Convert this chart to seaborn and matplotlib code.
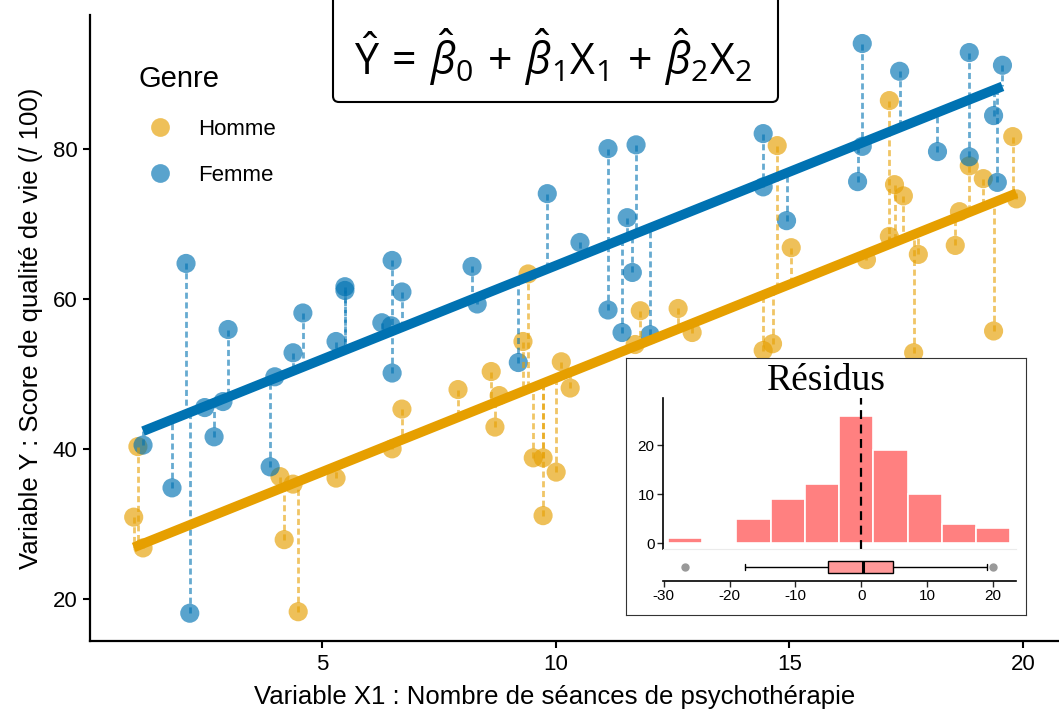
import numpy as np
import pandas as pd
import matplotlib
matplotlib.use('Agg')
import matplotlib.pyplot as plt
import matplotlib.transforms as mtransforms
from matplotlib.patches import FancyBboxPatch
from matplotlib.lines import Line2D
import seaborn as sns

sns.set_theme(style='white')
plt.rcParams['font.family'] = ['Liberation Sans', 'DejaVu Sans']
plt.rcParams['text.color'] = 'black'
plt.rcParams['axes.unicode_minus'] = False
plt.rcParams['mathtext.fontset'] = 'custom'
plt.rcParams['mathtext.rm'] = 'Open Sans'
plt.rcParams['mathtext.it'] = 'Open Sans:italic'

# Données
homme_x = [1.06, 0.97, 1.17, 4.10, 4.19, 4.38, 4.49, 5.30, 6.50, 6.71, 7.91, 8.62, 8.79, 8.70,
           9.30, 9.41, 9.52, 9.73, 9.73, 10.01, 10.12, 10.31, 11.81, 11.70, 12.62, 12.92,
           14.44, 14.64, 14.74, 15.04, 16.65, 17.14, 17.14, 17.25, 17.44, 17.66, 17.76,
           18.55, 18.64, 18.85, 19.15, 19.37, 19.78, 19.86]
homme_y = [40.3, 30.9, 26.8, 36.3, 27.9, 35.3, 18.3, 36.1, 40.0, 45.3, 47.9, 50.3, 47.1, 42.9,
           54.3, 63.3, 38.8, 38.8, 31.1, 36.9, 51.6, 48.1, 58.4, 53.9, 58.7, 55.5,
           53.1, 54.0, 80.4, 66.8, 65.2, 86.4, 68.3, 75.2, 73.7, 52.8, 65.9,
           67.1, 71.6, 77.7, 76.0, 55.7, 81.6, 73.3]
femme_x = [1.17, 1.79, 2.09, 2.17, 2.49, 2.69, 2.88, 2.99, 3.89, 3.99, 4.38, 4.59, 5.30, 5.49,
           5.49, 6.28, 6.48, 6.50, 6.50, 6.71, 8.21, 8.32, 9.20, 9.82, 10.52, 11.12, 11.12,
           11.42, 11.53, 11.64, 11.72, 12.02, 14.44, 14.44, 14.94, 16.46, 16.56, 16.56,
           17.36, 18.17, 18.85, 18.85, 19.37, 19.45, 19.56]
femme_y = [40.5, 34.8, 64.7, 18.1, 45.5, 41.6, 46.3, 55.9, 37.6, 49.6, 52.8, 58.1, 54.3, 61.6,
           61.1, 56.8, 56.4, 65.1, 50.1, 60.9, 64.3, 59.3, 51.5, 74.0, 67.5, 80.0, 58.5,
           55.5, 70.8, 63.5, 80.5, 55.2, 82.0, 74.9, 70.4, 75.6, 80.3, 94.0,
           90.3, 79.6, 92.8, 78.9, 84.4, 75.5, 91.1]

genres = ['Homme', 'Femme']
palette = {'Homme': '#E69F00', 'Femme': '#0072B2'}

df = pd.concat([
    pd.DataFrame({'x': homme_x, 'y': homme_y, 'genre': 'Homme'}),
    pd.DataFrame({'x': femme_x, 'y': femme_y, 'genre': 'Femme'}),
], ignore_index=True)

# modele Y = b0 + b1 X1 + b2 X2
X = np.column_stack([np.ones(len(df)), df['x'], (df['genre'] == 'Femme').astype(float)])
coef = np.linalg.lstsq(X, df['y'].values, rcond=None)[0]
df['fit'] = X @ coef
df['resid'] = df['y'] - df['fit']

fig = plt.figure(figsize=(10.59, 7.11), dpi=100)
ax = fig.add_axes([90/1059, 1-641/711, 969/1059, 626/711])

sns.scatterplot(data=df, x='x', y='y', hue='genre', palette=palette, s=190, alpha=0.65,
                edgecolor='none', legend=False, ax=ax, zorder=2)
for _, r in df.iterrows():
    ax.plot([r['x'], r['x']], [r['y'], r['fit']], color=palette[r['genre']], alpha=0.6,
            lw=2.0, ls=(0, (2.2, 1.3)), zorder=3)
sns.lineplot(data=df.sort_values('x'), x='x', y='fit', hue='genre', palette=palette,
             lw=7.0, legend=False, estimator=None, ax=ax, zorder=4, solid_capstyle='butt')

ax.set_xlim(0.035, 20.77)
ax.set_ylim(14.4, 97.8)
ax.set_xticks([5, 10, 15, 20])
ax.set_yticks([20, 40, 60, 80])
sns.despine(ax=ax)
for s in ['left', 'bottom']:
    ax.spines[s].set_linewidth(1.6)
    ax.spines[s].set_color('black')
ax.tick_params(axis='both', direction='out', length=5, width=1.5, color='black',
               labelsize=16, labelcolor='black', pad=4, left=True, bottom=True)
ax.set_xlabel('Variable X1 : Nombre de séances de psychothérapie', fontsize=18.5, color='black')
ax.set_ylabel('Variable Y : Score de qualité de vie (/ 100)', fontsize=18.5, color='black', labelpad=7)
ax.xaxis.set_label_coords(0.48, -0.071)

handles = [Line2D([], [], ls='none', marker='o', markersize=13.5, markeredgecolor='none',
                  markerfacecolor=palette[g], alpha=0.65) for g in genres]
leg = ax.legend(handles, genres, title='Genre', loc='upper left', bbox_to_anchor=(138/1059, 1-65/711),
                bbox_transform=fig.transFigure, frameon=False, fontsize=16, title_fontsize=21,
                alignment='left', handlelength=2.0, handletextpad=0.7, labelspacing=1.15,
                borderpad=0, borderaxespad=0, labelcolor='black')
leg.get_title().set_color('black')

# encadre de l'equation
box = FancyBboxPatch((333, 711-102), 445, 200, boxstyle='round,pad=0,rounding_size=6',
                     transform=mtransforms.IdentityTransform(), fc='white', ec='black', lw=1.5)
fig.add_artist(box)
fig.text(553/1059, 1-57/711,
         r'$\hat{\mathrm{Y}}\,=\,\hat{\beta}_0\,+\,\hat{\beta}_1\mathrm{X}_1\,+\,\hat{\beta}_2\mathrm{X}_2$',
         fontsize=31, ha='center', va='center', color='black')

# encart des residus
bg = fig.add_axes([626/1059, 1-615/711, 400/1059, 257/711])
bg.set_facecolor('white')
bg.set_xticks([])
bg.set_yticks([])
for s in bg.spines.values():
    s.set_color('#333333')
    s.set_linewidth(0.8)
bg.text(0.5, 0.91, 'Résidus', family='Liberation Serif', fontsize=27, ha='center', va='center',
        transform=bg.transAxes, color='black')

res = df['resid'].values
w = (res.max() - res.min()) / 9
edges = res.min() - w/2 + w*np.arange(11)
xl = (-30.1, 23.5)

hax = fig.add_axes([663/1059, 1-549/711, 353/1059, 151/711])
sns.histplot(x=res, bins=edges, color='#FF8080', alpha=1, edgecolor='white', linewidth=1.2, ax=hax)
hax.axvline(0, color='black', ls=(0, (4, 2.5)), lw=1.6)
hax.set_xlim(*xl)
hax.set_ylim(-1.2, 29.6)
hax.set_yticks([0, 10, 20])
hax.set_xticks([])
hax.set_xlabel('')
hax.set_ylabel('')
hax.set_facecolor('none')
for s in ['top', 'right']:
    hax.spines[s].set_visible(False)
hax.spines['bottom'].set_color('#EBEBEB')
hax.spines['bottom'].set_linewidth(0.8)
hax.spines['left'].set_color('black')
hax.spines['left'].set_linewidth(1.2)
hax.tick_params(axis='y', left=True, length=4, width=1, labelsize=11, pad=2, labelcolor='black')

bax = fig.add_axes([663/1059, 1-581/711, 353/1059, 28/711])
sns.boxplot(x=res, ax=bax, color='#FF9999', saturation=1, linecolor='black', linewidth=1,
            width=0.43, whis=1.5,
            medianprops=dict(linewidth=2.2, color='black'),
            flierprops=dict(marker='o', markerfacecolor='#999999', markeredgecolor='#999999', markersize=5))
bax.set_xlim(*xl)
bax.set_ylim(0.5, -0.5)
bax.set_xticks([-30, -20, -10, 0, 10, 20])
bax.set_yticks([])
bax.set_facecolor('none')
for s in ['top', 'right', 'left']:
    bax.spines[s].set_visible(False)
bax.spines['bottom'].set_color('black')
bax.spines['bottom'].set_linewidth(1.2)
bax.tick_params(axis='x', bottom=True, length=4, width=1, labelsize=11, pad=2, labelcolor='black')

fig.savefig('out.png', dpi=100)
